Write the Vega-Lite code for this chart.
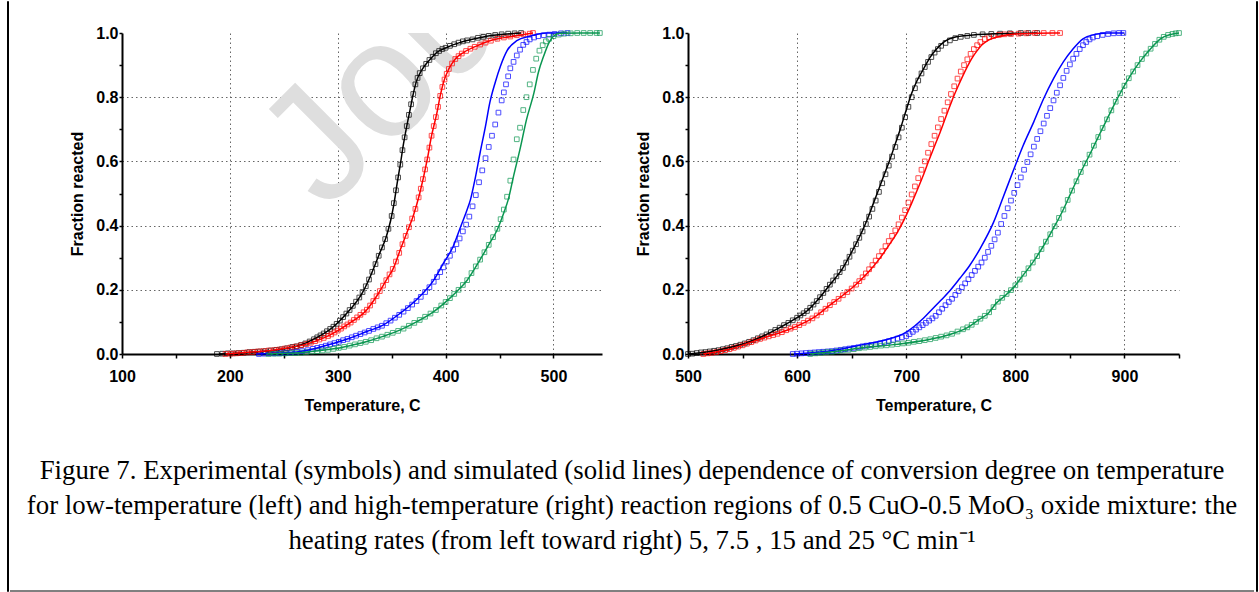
{
"$schema": "https://vega.github.io/schema/vega-lite/v6.json",
"background": "white",
"padding": {"left": 6, "top": 0, "right": 5, "bottom": 0},
"config": {
 "view": {"stroke": null},
 "font": "Liberation Sans",
 "axis": {"labelFont": "Liberation Sans", "labelFontWeight": "bold", "labelFontSize": 16, "labelColor": "black", "titleFont": "Liberation Sans", "titleFontWeight": "bold", "titleFontSize": 16, "titleColor": "black", "domainColor": "black", "domainWidth": 2, "tickColor": "black", "tickWidth": 1.5, "gridColor": "#666666", "gridDash": [1.5, 3], "gridWidth": 1},
 "axisX": {"tickSize": 4, "labelPadding": 10, "titlePadding": 13, "labelFlush": false},
 "axisY": {"tickSize": 3, "labelPadding": 1, "titlePadding": 10}
},
"datasets": {
 "Lx": [
 {"r":"5","t":188,"f":0},{"r":"5","t":193,"f":0.001},{"r":"5","t":198,"f":0.002},{"r":"5","t":203,"f":0.002},{"r":"5","t":208,"f":0.003},{"r":"5","t":213,"f":0.004},{"r":"5","t":218,"f":0.006},{"r":"5","t":223,"f":0.007},{"r":"5","t":228,"f":0.008},{"r":"5","t":233,"f":0.009},{"r":"5","t":238,"f":0.011},{"r":"5","t":243,"f":0.013},{"r":"5","t":248,"f":0.015},{"r":"5","t":253,"f":0.018},{"r":"5","t":258,"f":0.022},{"r":"5","t":262,"f":0.024},{"r":"5","t":266,"f":0.028},{"r":"5","t":270,"f":0.033},{"r":"5","t":274,"f":0.039},{"r":"5","t":278,"f":0.046},{"r":"5","t":281,"f":0.052},{"r":"5","t":284,"f":0.058},{"r":"5","t":287,"f":0.064},{"r":"5","t":290,"f":0.071},{"r":"5","t":293,"f":0.078},{"r":"5","t":296,"f":0.085},{"r":"5","t":299,"f":0.094},{"r":"5","t":302,"f":0.104},{"r":"5","t":305,"f":0.115},{"r":"5","t":308,"f":0.126},{"r":"5","t":311,"f":0.137},{"r":"5","t":314,"f":0.15},{"r":"5","t":317,"f":0.163},{"r":"5","t":320,"f":0.176},{"r":"5","t":323,"f":0.193},{"r":"5","t":326,"f":0.211},{"r":"5","t":329,"f":0.232},{"r":"5","t":332,"f":0.256},{"r":"5","t":335,"f":0.28},{"r":"5","t":338,"f":0.306},{"r":"5","t":341,"f":0.332},{"r":"5","t":344,"f":0.358},{"r":"5","t":347,"f":0.39},{"r":"5","t":350,"f":0.43},{"r":"5","t":352,"f":0.47},{"r":"5","t":354,"f":0.51},{"r":"5","t":356,"f":0.55},{"r":"5","t":358,"f":0.59},{"r":"5","t":360,"f":0.635},{"r":"5","t":362,"f":0.675},{"r":"5","t":364,"f":0.71},{"r":"5","t":366,"f":0.745},{"r":"5","t":368,"f":0.778},{"r":"5","t":370,"f":0.81},{"r":"5","t":372,"f":0.84},{"r":"5","t":374,"f":0.86},{"r":"5","t":376,"f":0.875},{"r":"5","t":379,"f":0.89},{"r":"5","t":382,"f":0.904},{"r":"5","t":385,"f":0.916},{"r":"5","t":388,"f":0.926},{"r":"5","t":391,"f":0.937},{"r":"5","t":394,"f":0.944},{"r":"5","t":397,"f":0.95},{"r":"5","t":400,"f":0.954},{"r":"5","t":404,"f":0.96},{"r":"5","t":408,"f":0.965},{"r":"5","t":412,"f":0.97},{"r":"5","t":416,"f":0.974},{"r":"5","t":420,"f":0.977},{"r":"5","t":425,"f":0.98},{"r":"5","t":430,"f":0.985},{"r":"5","t":435,"f":0.988},{"r":"5","t":440,"f":0.991},{"r":"5","t":446,"f":0.994},{"r":"5","t":452,"f":0.996},{"r":"5","t":458,"f":0.998},{"r":"5","t":464,"f":0.999},{"r":"5","t":470,"f":1},
 {"r":"7.5","t":196,"f":0},{"r":"7.5","t":201,"f":0.001},{"r":"7.5","t":206,"f":0.002},{"r":"7.5","t":211,"f":0.003},{"r":"7.5","t":216,"f":0.005},{"r":"7.5","t":221,"f":0.006},{"r":"7.5","t":226,"f":0.008},{"r":"7.5","t":231,"f":0.009},{"r":"7.5","t":236,"f":0.011},{"r":"7.5","t":241,"f":0.012},{"r":"7.5","t":246,"f":0.014},{"r":"7.5","t":251,"f":0.017},{"r":"7.5","t":256,"f":0.02},{"r":"7.5","t":261,"f":0.023},{"r":"7.5","t":266,"f":0.027},{"r":"7.5","t":271,"f":0.031},{"r":"7.5","t":275,"f":0.035},{"r":"7.5","t":279,"f":0.04},{"r":"7.5","t":283,"f":0.045},{"r":"7.5","t":287,"f":0.05},{"r":"7.5","t":291,"f":0.056},{"r":"7.5","t":294,"f":0.061},{"r":"7.5","t":297,"f":0.067},{"r":"7.5","t":300,"f":0.073},{"r":"7.5","t":303,"f":0.079},{"r":"7.5","t":306,"f":0.086},{"r":"7.5","t":309,"f":0.092},{"r":"7.5","t":312,"f":0.098},{"r":"7.5","t":315,"f":0.106},{"r":"7.5","t":318,"f":0.114},{"r":"7.5","t":321,"f":0.122},{"r":"7.5","t":324,"f":0.13},{"r":"7.5","t":327,"f":0.138},{"r":"7.5","t":330,"f":0.151},{"r":"7.5","t":333,"f":0.165},{"r":"7.5","t":336,"f":0.18},{"r":"7.5","t":339,"f":0.196},{"r":"7.5","t":342,"f":0.213},{"r":"7.5","t":345,"f":0.23},{"r":"7.5","t":348,"f":0.248},{"r":"7.5","t":351,"f":0.265},{"r":"7.5","t":354,"f":0.288},{"r":"7.5","t":357,"f":0.315},{"r":"7.5","t":360,"f":0.342},{"r":"7.5","t":363,"f":0.368},{"r":"7.5","t":366,"f":0.395},{"r":"7.5","t":369,"f":0.422},{"r":"7.5","t":372,"f":0.452},{"r":"7.5","t":375,"f":0.488},{"r":"7.5","t":377,"f":0.515},{"r":"7.5","t":379,"f":0.545},{"r":"7.5","t":381,"f":0.575},{"r":"7.5","t":383,"f":0.606},{"r":"7.5","t":385,"f":0.643},{"r":"7.5","t":387,"f":0.68},{"r":"7.5","t":389,"f":0.71},{"r":"7.5","t":391,"f":0.738},{"r":"7.5","t":393,"f":0.77},{"r":"7.5","t":395,"f":0.804},{"r":"7.5","t":397,"f":0.832},{"r":"7.5","t":399,"f":0.855},{"r":"7.5","t":401,"f":0.873},{"r":"7.5","t":403,"f":0.888},{"r":"7.5","t":406,"f":0.905},{"r":"7.5","t":409,"f":0.919},{"r":"7.5","t":412,"f":0.928},{"r":"7.5","t":415,"f":0.936},{"r":"7.5","t":419,"f":0.944},{"r":"7.5","t":423,"f":0.951},{"r":"7.5","t":427,"f":0.957},{"r":"7.5","t":432,"f":0.964},{"r":"7.5","t":437,"f":0.97},{"r":"7.5","t":442,"f":0.976},{"r":"7.5","t":448,"f":0.982},{"r":"7.5","t":454,"f":0.986},{"r":"7.5","t":460,"f":0.989},{"r":"7.5","t":466,"f":0.993},{"r":"7.5","t":472,"f":0.996},{"r":"7.5","t":478,"f":0.998},{"r":"7.5","t":481,"f":1},
 {"r":"15","t":227,"f":0},{"r":"15","t":232,"f":0.001},{"r":"15","t":237,"f":0.002},{"r":"15","t":242,"f":0.002},{"r":"15","t":247,"f":0.003},{"r":"15","t":252,"f":0.004},{"r":"15","t":257,"f":0.005},{"r":"15","t":262,"f":0.007},{"r":"15","t":267,"f":0.009},{"r":"15","t":272,"f":0.012},{"r":"15","t":277,"f":0.016},{"r":"15","t":281,"f":0.019},{"r":"15","t":285,"f":0.022},{"r":"15","t":289,"f":0.026},{"r":"15","t":293,"f":0.03},{"r":"15","t":297,"f":0.034},{"r":"15","t":301,"f":0.038},{"r":"15","t":305,"f":0.043},{"r":"15","t":309,"f":0.047},{"r":"15","t":313,"f":0.052},{"r":"15","t":317,"f":0.057},{"r":"15","t":321,"f":0.062},{"r":"15","t":325,"f":0.067},{"r":"15","t":329,"f":0.072},{"r":"15","t":333,"f":0.078},{"r":"15","t":337,"f":0.083},{"r":"15","t":341,"f":0.088},{"r":"15","t":345,"f":0.096},{"r":"15","t":349,"f":0.104},{"r":"15","t":353,"f":0.113},{"r":"15","t":357,"f":0.122},{"r":"15","t":361,"f":0.132},{"r":"15","t":365,"f":0.143},{"r":"15","t":369,"f":0.154},{"r":"15","t":373,"f":0.165},{"r":"15","t":377,"f":0.178},{"r":"15","t":381,"f":0.193},{"r":"15","t":385,"f":0.208},{"r":"15","t":389,"f":0.225},{"r":"15","t":392,"f":0.24},{"r":"15","t":395,"f":0.255},{"r":"15","t":398,"f":0.27},{"r":"15","t":401,"f":0.288},{"r":"15","t":404,"f":0.306},{"r":"15","t":407,"f":0.325},{"r":"15","t":410,"f":0.342},{"r":"15","t":413,"f":0.36},{"r":"15","t":416,"f":0.382},{"r":"15","t":419,"f":0.403},{"r":"15","t":422,"f":0.428},{"r":"15","t":425,"f":0.46},{"r":"15","t":428,"f":0.495},{"r":"15","t":431,"f":0.535},{"r":"15","t":434,"f":0.572},{"r":"15","t":437,"f":0.61},{"r":"15","t":440,"f":0.645},{"r":"15","t":443,"f":0.68},{"r":"15","t":446,"f":0.715},{"r":"15","t":449,"f":0.752},{"r":"15","t":452,"f":0.79},{"r":"15","t":454,"f":0.815},{"r":"15","t":456,"f":0.84},{"r":"15","t":458,"f":0.865},{"r":"15","t":460,"f":0.89},{"r":"15","t":463,"f":0.91},{"r":"15","t":466,"f":0.93},{"r":"15","t":469,"f":0.948},{"r":"15","t":472,"f":0.963},{"r":"15","t":475,"f":0.972},{"r":"15","t":478,"f":0.98},{"r":"15","t":482,"f":0.986},{"r":"15","t":486,"f":0.99},{"r":"15","t":491,"f":0.993},{"r":"15","t":496,"f":0.995},{"r":"15","t":501,"f":0.997},{"r":"15","t":507,"f":0.999},{"r":"15","t":513,"f":1},
 {"r":"25","t":236,"f":0},{"r":"25","t":241,"f":0.001},{"r":"25","t":246,"f":0.001},{"r":"25","t":251,"f":0.002},{"r":"25","t":256,"f":0.003},{"r":"25","t":261,"f":0.003},{"r":"25","t":266,"f":0.004},{"r":"25","t":271,"f":0.006},{"r":"25","t":276,"f":0.008},{"r":"25","t":281,"f":0.009},{"r":"25","t":286,"f":0.011},{"r":"25","t":291,"f":0.013},{"r":"25","t":296,"f":0.016},{"r":"25","t":301,"f":0.019},{"r":"25","t":306,"f":0.022},{"r":"25","t":311,"f":0.026},{"r":"25","t":316,"f":0.03},{"r":"25","t":321,"f":0.034},{"r":"25","t":326,"f":0.038},{"r":"25","t":331,"f":0.043},{"r":"25","t":336,"f":0.049},{"r":"25","t":341,"f":0.054},{"r":"25","t":346,"f":0.06},{"r":"25","t":351,"f":0.066},{"r":"25","t":356,"f":0.072},{"r":"25","t":361,"f":0.079},{"r":"25","t":366,"f":0.088},{"r":"25","t":371,"f":0.097},{"r":"25","t":376,"f":0.106},{"r":"25","t":381,"f":0.116},{"r":"25","t":386,"f":0.126},{"r":"25","t":391,"f":0.137},{"r":"25","t":396,"f":0.151},{"r":"25","t":400,"f":0.162},{"r":"25","t":404,"f":0.174},{"r":"25","t":408,"f":0.187},{"r":"25","t":412,"f":0.2},{"r":"25","t":416,"f":0.215},{"r":"25","t":420,"f":0.23},{"r":"25","t":424,"f":0.252},{"r":"25","t":428,"f":0.273},{"r":"25","t":432,"f":0.294},{"r":"25","t":436,"f":0.317},{"r":"25","t":440,"f":0.34},{"r":"25","t":444,"f":0.364},{"r":"25","t":448,"f":0.39},{"r":"25","t":451,"f":0.42},{"r":"25","t":454,"f":0.45},{"r":"25","t":457,"f":0.49},{"r":"25","t":460,"f":0.54},{"r":"25","t":463,"f":0.606},{"r":"25","t":466,"f":0.669},{"r":"25","t":469,"f":0.705},{"r":"25","t":472,"f":0.76},{"r":"25","t":475,"f":0.8},{"r":"25","t":478,"f":0.84},{"r":"25","t":481,"f":0.885},{"r":"25","t":484,"f":0.92},{"r":"25","t":487,"f":0.945},{"r":"25","t":490,"f":0.962},{"r":"25","t":493,"f":0.974},{"r":"25","t":496,"f":0.982},{"r":"25","t":500,"f":0.99},{"r":"25","t":505,"f":0.995},{"r":"25","t":510,"f":0.998},{"r":"25","t":516,"f":0.999},{"r":"25","t":522,"f":1},{"r":"25","t":528,"f":1},{"r":"25","t":534,"f":1},{"r":"25","t":540,"f":1},{"r":"25","t":543,"f":1}
 ],
 "Ls": [
 {"r":"5","t":190,"f":0},{"r":"5","t":210,"f":0.003},{"r":"5","t":230,"f":0.008},{"r":"5","t":250,"f":0.016},{"r":"5","t":265,"f":0.027},{"r":"5","t":280,"f":0.05},{"r":"5","t":296,"f":0.085},{"r":"5","t":311,"f":0.137},{"r":"5","t":321,"f":0.18},{"r":"5","t":330,"f":0.24},{"r":"5","t":339,"f":0.315},{"r":"5","t":345,"f":0.365},{"r":"5","t":349,"f":0.415},{"r":"5","t":352,"f":0.465},{"r":"5","t":355,"f":0.53},{"r":"5","t":358,"f":0.59},{"r":"5","t":361,"f":0.655},{"r":"5","t":364,"f":0.71},{"r":"5","t":367,"f":0.76},{"r":"5","t":370,"f":0.81},{"r":"5","t":373,"f":0.85},{"r":"5","t":378,"f":0.885},{"r":"5","t":383,"f":0.908},{"r":"5","t":387,"f":0.923},{"r":"5","t":392,"f":0.94},{"r":"5","t":401,"f":0.955},{"r":"5","t":413,"f":0.97},{"r":"5","t":426,"f":0.981},{"r":"5","t":438,"f":0.99},{"r":"5","t":457,"f":0.997},{"r":"5","t":470,"f":1},
 {"r":"7.5","t":196,"f":0},{"r":"7.5","t":220,"f":0.006},{"r":"7.5","t":240,"f":0.012},{"r":"7.5","t":256,"f":0.02},{"r":"7.5","t":270,"f":0.03},{"r":"7.5","t":285,"f":0.047},{"r":"7.5","t":296,"f":0.065},{"r":"7.5","t":311,"f":0.096},{"r":"7.5","t":327,"f":0.138},{"r":"7.5","t":336,"f":0.18},{"r":"7.5","t":345,"f":0.23},{"r":"7.5","t":352,"f":0.27},{"r":"7.5","t":358,"f":0.325},{"r":"7.5","t":364,"f":0.377},{"r":"7.5","t":370,"f":0.43},{"r":"7.5","t":376,"f":0.5},{"r":"7.5","t":383,"f":0.606},{"r":"7.5","t":387,"f":0.68},{"r":"7.5","t":392,"f":0.752},{"r":"7.5","t":395,"f":0.804},{"r":"7.5","t":398,"f":0.846},{"r":"7.5","t":403,"f":0.888},{"r":"7.5","t":409,"f":0.919},{"r":"7.5","t":417,"f":0.94},{"r":"7.5","t":429,"f":0.96},{"r":"7.5","t":444,"f":0.979},{"r":"7.5","t":463,"f":0.99},{"r":"7.5","t":481,"f":1},
 {"r":"15","t":225,"f":0},{"r":"15","t":245,"f":0.003},{"r":"15","t":265,"f":0.008},{"r":"15","t":280,"f":0.018},{"r":"15","t":296,"f":0.033},{"r":"15","t":311,"f":0.049},{"r":"15","t":327,"f":0.07},{"r":"15","t":342,"f":0.09},{"r":"15","t":358,"f":0.127},{"r":"15","t":373,"f":0.169},{"r":"15","t":389,"f":0.23},{"r":"15","t":398,"f":0.283},{"r":"15","t":407,"f":0.335},{"r":"15","t":413,"f":0.388},{"r":"15","t":420,"f":0.45},{"r":"15","t":423,"f":0.48},{"r":"15","t":427,"f":0.54},{"r":"15","t":432,"f":0.627},{"r":"15","t":437,"f":0.71},{"r":"15","t":441,"f":0.783},{"r":"15","t":446,"f":0.846},{"r":"15","t":451,"f":0.898},{"r":"15","t":457,"f":0.945},{"r":"15","t":466,"f":0.976},{"r":"15","t":478,"f":0.99},{"r":"15","t":494,"f":1},{"r":"15","t":513,"f":1},
 {"r":"25","t":234,"f":0},{"r":"25","t":250,"f":0.002},{"r":"25","t":265,"f":0.004},{"r":"25","t":280,"f":0.009},{"r":"25","t":296,"f":0.016},{"r":"25","t":311,"f":0.026},{"r":"25","t":327,"f":0.039},{"r":"25","t":342,"f":0.055},{"r":"25","t":358,"f":0.075},{"r":"25","t":373,"f":0.1},{"r":"25","t":389,"f":0.132},{"r":"25","t":404,"f":0.174},{"r":"25","t":412,"f":0.2},{"r":"25","t":420,"f":0.23},{"r":"25","t":432,"f":0.294},{"r":"25","t":441,"f":0.346},{"r":"25","t":448,"f":0.388},{"r":"25","t":454,"f":0.44},{"r":"25","t":458,"f":0.48},{"r":"25","t":463,"f":0.554},{"r":"25","t":469,"f":0.638},{"r":"25","t":475,"f":0.73},{"r":"25","t":482,"f":0.815},{"r":"25","t":486,"f":0.877},{"r":"25","t":491,"f":0.929},{"r":"25","t":496,"f":0.971},{"r":"25","t":500,"f":0.99},{"r":"25","t":506,"f":0.999},{"r":"25","t":543,"f":1}
 ],
 "Rx": [
 {"r":"5","t":500,"f":0},{"r":"5","t":504,"f":0.001},{"r":"5","t":508,"f":0.003},{"r":"5","t":512,"f":0.005},{"r":"5","t":516,"f":0.006},{"r":"5","t":520,"f":0.008},{"r":"5","t":524,"f":0.01},{"r":"5","t":528,"f":0.012},{"r":"5","t":532,"f":0.015},{"r":"5","t":536,"f":0.018},{"r":"5","t":540,"f":0.022},{"r":"5","t":544,"f":0.025},{"r":"5","t":548,"f":0.029},{"r":"5","t":552,"f":0.033},{"r":"5","t":556,"f":0.038},{"r":"5","t":560,"f":0.043},{"r":"5","t":564,"f":0.049},{"r":"5","t":568,"f":0.055},{"r":"5","t":572,"f":0.061},{"r":"5","t":576,"f":0.068},{"r":"5","t":580,"f":0.075},{"r":"5","t":584,"f":0.082},{"r":"5","t":588,"f":0.09},{"r":"5","t":592,"f":0.097},{"r":"5","t":596,"f":0.105},{"r":"5","t":600,"f":0.113},{"r":"5","t":603,"f":0.12},{"r":"5","t":606,"f":0.127},{"r":"5","t":609,"f":0.134},{"r":"5","t":612,"f":0.144},{"r":"5","t":615,"f":0.154},{"r":"5","t":618,"f":0.165},{"r":"5","t":621,"f":0.177},{"r":"5","t":624,"f":0.19},{"r":"5","t":627,"f":0.203},{"r":"5","t":630,"f":0.216},{"r":"5","t":633,"f":0.229},{"r":"5","t":636,"f":0.242},{"r":"5","t":639,"f":0.255},{"r":"5","t":642,"f":0.268},{"r":"5","t":645,"f":0.285},{"r":"5","t":648,"f":0.303},{"r":"5","t":651,"f":0.322},{"r":"5","t":654,"f":0.342},{"r":"5","t":657,"f":0.362},{"r":"5","t":660,"f":0.382},{"r":"5","t":663,"f":0.405},{"r":"5","t":666,"f":0.428},{"r":"5","t":669,"f":0.452},{"r":"5","t":672,"f":0.478},{"r":"5","t":675,"f":0.505},{"r":"5","t":678,"f":0.532},{"r":"5","t":681,"f":0.56},{"r":"5","t":684,"f":0.587},{"r":"5","t":687,"f":0.615},{"r":"5","t":690,"f":0.645},{"r":"5","t":693,"f":0.675},{"r":"5","t":696,"f":0.705},{"r":"5","t":699,"f":0.738},{"r":"5","t":702,"f":0.77},{"r":"5","t":705,"f":0.8},{"r":"5","t":708,"f":0.828},{"r":"5","t":711,"f":0.852},{"r":"5","t":714,"f":0.874},{"r":"5","t":717,"f":0.894},{"r":"5","t":720,"f":0.91},{"r":"5","t":723,"f":0.925},{"r":"5","t":726,"f":0.939},{"r":"5","t":729,"f":0.95},{"r":"5","t":732,"f":0.96},{"r":"5","t":736,"f":0.969},{"r":"5","t":740,"f":0.977},{"r":"5","t":745,"f":0.984},{"r":"5","t":750,"f":0.988},{"r":"5","t":756,"f":0.991},{"r":"5","t":762,"f":0.994},{"r":"5","t":770,"f":0.996},{"r":"5","t":778,"f":0.997},{"r":"5","t":786,"f":0.998},{"r":"5","t":795,"f":0.999},{"r":"5","t":805,"f":1},{"r":"5","t":812,"f":1},{"r":"5","t":820,"f":1},
 {"r":"7.5","t":514,"f":0},{"r":"7.5","t":518,"f":0.002},{"r":"7.5","t":522,"f":0.004},{"r":"7.5","t":526,"f":0.006},{"r":"7.5","t":530,"f":0.009},{"r":"7.5","t":534,"f":0.012},{"r":"7.5","t":538,"f":0.015},{"r":"7.5","t":542,"f":0.019},{"r":"7.5","t":546,"f":0.023},{"r":"7.5","t":550,"f":0.027},{"r":"7.5","t":554,"f":0.032},{"r":"7.5","t":558,"f":0.037},{"r":"7.5","t":562,"f":0.042},{"r":"7.5","t":566,"f":0.047},{"r":"7.5","t":570,"f":0.051},{"r":"7.5","t":574,"f":0.055},{"r":"7.5","t":578,"f":0.059},{"r":"7.5","t":582,"f":0.063},{"r":"7.5","t":586,"f":0.068},{"r":"7.5","t":590,"f":0.074},{"r":"7.5","t":594,"f":0.079},{"r":"7.5","t":598,"f":0.084},{"r":"7.5","t":602,"f":0.09},{"r":"7.5","t":606,"f":0.097},{"r":"7.5","t":610,"f":0.104},{"r":"7.5","t":614,"f":0.111},{"r":"7.5","t":618,"f":0.12},{"r":"7.5","t":622,"f":0.13},{"r":"7.5","t":626,"f":0.141},{"r":"7.5","t":630,"f":0.152},{"r":"7.5","t":634,"f":0.162},{"r":"7.5","t":638,"f":0.172},{"r":"7.5","t":642,"f":0.183},{"r":"7.5","t":646,"f":0.193},{"r":"7.5","t":650,"f":0.204},{"r":"7.5","t":654,"f":0.216},{"r":"7.5","t":657,"f":0.227},{"r":"7.5","t":660,"f":0.239},{"r":"7.5","t":663,"f":0.251},{"r":"7.5","t":666,"f":0.264},{"r":"7.5","t":669,"f":0.277},{"r":"7.5","t":672,"f":0.291},{"r":"7.5","t":675,"f":0.305},{"r":"7.5","t":678,"f":0.32},{"r":"7.5","t":681,"f":0.336},{"r":"7.5","t":684,"f":0.352},{"r":"7.5","t":687,"f":0.368},{"r":"7.5","t":690,"f":0.385},{"r":"7.5","t":693,"f":0.404},{"r":"7.5","t":696,"f":0.425},{"r":"7.5","t":699,"f":0.448},{"r":"7.5","t":702,"f":0.472},{"r":"7.5","t":705,"f":0.497},{"r":"7.5","t":708,"f":0.522},{"r":"7.5","t":711,"f":0.548},{"r":"7.5","t":714,"f":0.574},{"r":"7.5","t":717,"f":0.6},{"r":"7.5","t":720,"f":0.627},{"r":"7.5","t":723,"f":0.654},{"r":"7.5","t":726,"f":0.68},{"r":"7.5","t":729,"f":0.706},{"r":"7.5","t":732,"f":0.732},{"r":"7.5","t":735,"f":0.758},{"r":"7.5","t":738,"f":0.784},{"r":"7.5","t":741,"f":0.81},{"r":"7.5","t":744,"f":0.834},{"r":"7.5","t":747,"f":0.858},{"r":"7.5","t":750,"f":0.88},{"r":"7.5","t":753,"f":0.9},{"r":"7.5","t":756,"f":0.918},{"r":"7.5","t":759,"f":0.935},{"r":"7.5","t":762,"f":0.95},{"r":"7.5","t":765,"f":0.962},{"r":"7.5","t":768,"f":0.972},{"r":"7.5","t":772,"f":0.981},{"r":"7.5","t":776,"f":0.987},{"r":"7.5","t":780,"f":0.991},{"r":"7.5","t":785,"f":0.994},{"r":"7.5","t":790,"f":0.996},{"r":"7.5","t":796,"f":0.997},{"r":"7.5","t":803,"f":0.998},{"r":"7.5","t":810,"f":0.999},{"r":"7.5","t":818,"f":1},{"r":"7.5","t":826,"f":1},{"r":"7.5","t":834,"f":1},{"r":"7.5","t":841,"f":1},
 {"r":"15","t":596,"f":0},{"r":"15","t":600,"f":0.001},{"r":"15","t":604,"f":0.002},{"r":"15","t":608,"f":0.003},{"r":"15","t":612,"f":0.004},{"r":"15","t":616,"f":0.005},{"r":"15","t":620,"f":0.006},{"r":"15","t":624,"f":0.007},{"r":"15","t":628,"f":0.008},{"r":"15","t":632,"f":0.009},{"r":"15","t":636,"f":0.011},{"r":"15","t":640,"f":0.013},{"r":"15","t":644,"f":0.015},{"r":"15","t":648,"f":0.017},{"r":"15","t":652,"f":0.019},{"r":"15","t":656,"f":0.021},{"r":"15","t":660,"f":0.024},{"r":"15","t":664,"f":0.026},{"r":"15","t":668,"f":0.028},{"r":"15","t":672,"f":0.03},{"r":"15","t":676,"f":0.033},{"r":"15","t":680,"f":0.036},{"r":"15","t":684,"f":0.04},{"r":"15","t":688,"f":0.044},{"r":"15","t":692,"f":0.048},{"r":"15","t":696,"f":0.052},{"r":"15","t":700,"f":0.056},{"r":"15","t":703,"f":0.062},{"r":"15","t":706,"f":0.069},{"r":"15","t":709,"f":0.076},{"r":"15","t":712,"f":0.083},{"r":"15","t":715,"f":0.09},{"r":"15","t":718,"f":0.097},{"r":"15","t":721,"f":0.104},{"r":"15","t":724,"f":0.111},{"r":"15","t":727,"f":0.119},{"r":"15","t":730,"f":0.13},{"r":"15","t":733,"f":0.141},{"r":"15","t":736,"f":0.152},{"r":"15","t":739,"f":0.162},{"r":"15","t":742,"f":0.172},{"r":"15","t":745,"f":0.184},{"r":"15","t":748,"f":0.196},{"r":"15","t":751,"f":0.208},{"r":"15","t":754,"f":0.22},{"r":"15","t":757,"f":0.233},{"r":"15","t":760,"f":0.246},{"r":"15","t":763,"f":0.259},{"r":"15","t":766,"f":0.272},{"r":"15","t":769,"f":0.285},{"r":"15","t":772,"f":0.3},{"r":"15","t":775,"f":0.318},{"r":"15","t":778,"f":0.337},{"r":"15","t":781,"f":0.357},{"r":"15","t":784,"f":0.378},{"r":"15","t":787,"f":0.405},{"r":"15","t":790,"f":0.43},{"r":"15","t":793,"f":0.454},{"r":"15","t":796,"f":0.478},{"r":"15","t":799,"f":0.502},{"r":"15","t":802,"f":0.526},{"r":"15","t":805,"f":0.55},{"r":"15","t":808,"f":0.574},{"r":"15","t":811,"f":0.598},{"r":"15","t":814,"f":0.622},{"r":"15","t":817,"f":0.646},{"r":"15","t":820,"f":0.67},{"r":"15","t":823,"f":0.694},{"r":"15","t":826,"f":0.718},{"r":"15","t":829,"f":0.742},{"r":"15","t":832,"f":0.766},{"r":"15","t":835,"f":0.79},{"r":"15","t":838,"f":0.814},{"r":"15","t":841,"f":0.837},{"r":"15","t":844,"f":0.86},{"r":"15","t":847,"f":0.882},{"r":"15","t":850,"f":0.902},{"r":"15","t":853,"f":0.92},{"r":"15","t":856,"f":0.935},{"r":"15","t":859,"f":0.95},{"r":"15","t":862,"f":0.962},{"r":"15","t":865,"f":0.972},{"r":"15","t":868,"f":0.98},{"r":"15","t":871,"f":0.986},{"r":"15","t":875,"f":0.99},{"r":"15","t":880,"f":0.994},{"r":"15","t":885,"f":0.997},{"r":"15","t":890,"f":0.999},{"r":"15","t":895,"f":1},{"r":"15","t":899,"f":1},
 {"r":"25","t":612,"f":0},{"r":"25","t":617,"f":0.002},{"r":"25","t":622,"f":0.004},{"r":"25","t":627,"f":0.006},{"r":"25","t":632,"f":0.007},{"r":"25","t":637,"f":0.009},{"r":"25","t":642,"f":0.011},{"r":"25","t":647,"f":0.013},{"r":"25","t":652,"f":0.015},{"r":"25","t":657,"f":0.018},{"r":"25","t":662,"f":0.02},{"r":"25","t":667,"f":0.022},{"r":"25","t":672,"f":0.024},{"r":"25","t":677,"f":0.026},{"r":"25","t":682,"f":0.027},{"r":"25","t":687,"f":0.029},{"r":"25","t":692,"f":0.031},{"r":"25","t":697,"f":0.033},{"r":"25","t":702,"f":0.035},{"r":"25","t":707,"f":0.038},{"r":"25","t":712,"f":0.04},{"r":"25","t":717,"f":0.043},{"r":"25","t":722,"f":0.046},{"r":"25","t":727,"f":0.05},{"r":"25","t":732,"f":0.054},{"r":"25","t":737,"f":0.058},{"r":"25","t":742,"f":0.063},{"r":"25","t":747,"f":0.07},{"r":"25","t":752,"f":0.077},{"r":"25","t":756,"f":0.083},{"r":"25","t":760,"f":0.091},{"r":"25","t":764,"f":0.1},{"r":"25","t":768,"f":0.11},{"r":"25","t":772,"f":0.119},{"r":"25","t":776,"f":0.13},{"r":"25","t":780,"f":0.146},{"r":"25","t":784,"f":0.163},{"r":"25","t":788,"f":0.175},{"r":"25","t":792,"f":0.187},{"r":"25","t":796,"f":0.199},{"r":"25","t":800,"f":0.214},{"r":"25","t":804,"f":0.232},{"r":"25","t":808,"f":0.25},{"r":"25","t":812,"f":0.267},{"r":"25","t":816,"f":0.285},{"r":"25","t":820,"f":0.305},{"r":"25","t":824,"f":0.327},{"r":"25","t":828,"f":0.35},{"r":"25","t":832,"f":0.373},{"r":"25","t":836,"f":0.398},{"r":"25","t":840,"f":0.424},{"r":"25","t":844,"f":0.45},{"r":"25","t":848,"f":0.48},{"r":"25","t":852,"f":0.509},{"r":"25","t":856,"f":0.538},{"r":"25","t":860,"f":0.567},{"r":"25","t":864,"f":0.594},{"r":"25","t":868,"f":0.621},{"r":"25","t":872,"f":0.649},{"r":"25","t":876,"f":0.676},{"r":"25","t":880,"f":0.704},{"r":"25","t":884,"f":0.731},{"r":"25","t":888,"f":0.759},{"r":"25","t":892,"f":0.786},{"r":"25","t":896,"f":0.812},{"r":"25","t":900,"f":0.836},{"r":"25","t":904,"f":0.859},{"r":"25","t":908,"f":0.88},{"r":"25","t":912,"f":0.9},{"r":"25","t":916,"f":0.919},{"r":"25","t":920,"f":0.936},{"r":"25","t":924,"f":0.951},{"r":"25","t":928,"f":0.966},{"r":"25","t":932,"f":0.979},{"r":"25","t":936,"f":0.988},{"r":"25","t":940,"f":0.994},{"r":"25","t":944,"f":0.997},{"r":"25","t":947,"f":0.999},{"r":"25","t":950,"f":1}
 ],
 "Rs": [
 {"r":"5","t":500,"f":0},{"r":"5","t":523,"f":0.009},{"r":"5","t":538,"f":0.02},{"r":"5","t":554,"f":0.035},{"r":"5","t":569,"f":0.056},{"r":"5","t":584,"f":0.082},{"r":"5","t":600,"f":0.113},{"r":"5","t":609,"f":0.134},{"r":"5","t":618,"f":0.165},{"r":"5","t":630,"f":0.216},{"r":"5","t":642,"f":0.268},{"r":"5","t":648,"f":0.305},{"r":"5","t":655,"f":0.35},{"r":"5","t":660,"f":0.385},{"r":"5","t":665,"f":0.425},{"r":"5","t":670,"f":0.47},{"r":"5","t":675,"f":0.515},{"r":"5","t":680,"f":0.56},{"r":"5","t":685,"f":0.605},{"r":"5","t":690,"f":0.655},{"r":"5","t":695,"f":0.705},{"r":"5","t":700,"f":0.76},{"r":"5","t":705,"f":0.812},{"r":"5","t":710,"f":0.852},{"r":"5","t":716,"f":0.889},{"r":"5","t":722,"f":0.925},{"r":"5","t":728,"f":0.951},{"r":"5","t":735,"f":0.973},{"r":"5","t":746,"f":0.988},{"r":"5","t":765,"f":0.995},{"r":"5","t":786,"f":0.998},{"r":"5","t":820,"f":1},
 {"r":"7.5","t":514,"f":0},{"r":"7.5","t":538,"f":0.015},{"r":"7.5","t":569,"f":0.05},{"r":"7.5","t":584,"f":0.066},{"r":"7.5","t":600,"f":0.087},{"r":"7.5","t":615,"f":0.113},{"r":"7.5","t":630,"f":0.152},{"r":"7.5","t":642,"f":0.183},{"r":"7.5","t":650,"f":0.205},{"r":"7.5","t":658,"f":0.23},{"r":"7.5","t":666,"f":0.258},{"r":"7.5","t":674,"f":0.29},{"r":"7.5","t":685,"f":0.343},{"r":"7.5","t":692,"f":0.38},{"r":"7.5","t":699,"f":0.425},{"r":"7.5","t":705,"f":0.47},{"r":"7.5","t":710,"f":0.51},{"r":"7.5","t":716,"f":0.56},{"r":"7.5","t":721,"f":0.605},{"r":"7.5","t":726,"f":0.648},{"r":"7.5","t":731,"f":0.69},{"r":"7.5","t":737,"f":0.745},{"r":"7.5","t":742,"f":0.79},{"r":"7.5","t":747,"f":0.83},{"r":"7.5","t":751,"f":0.86},{"r":"7.5","t":756,"f":0.895},{"r":"7.5","t":760,"f":0.92},{"r":"7.5","t":765,"f":0.945},{"r":"7.5","t":769,"f":0.962},{"r":"7.5","t":774,"f":0.975},{"r":"7.5","t":778,"f":0.982},{"r":"7.5","t":786,"f":0.99},{"r":"7.5","t":800,"f":0.997},{"r":"7.5","t":820,"f":0.999},{"r":"7.5","t":841,"f":1},
 {"r":"15","t":597,"f":0},{"r":"15","t":630,"f":0.009},{"r":"15","t":661,"f":0.03},{"r":"15","t":679,"f":0.042},{"r":"15","t":700,"f":0.068},{"r":"15","t":708,"f":0.088},{"r":"15","t":716,"f":0.112},{"r":"15","t":724,"f":0.14},{"r":"15","t":732,"f":0.168},{"r":"15","t":740,"f":0.197},{"r":"15","t":749,"f":0.235},{"r":"15","t":758,"f":0.275},{"r":"15","t":768,"f":0.33},{"r":"15","t":780,"f":0.41},{"r":"15","t":789,"f":0.49},{"r":"15","t":798,"f":0.57},{"r":"15","t":807,"f":0.648},{"r":"15","t":817,"f":0.724},{"r":"15","t":826,"f":0.796},{"r":"15","t":835,"f":0.858},{"r":"15","t":844,"f":0.91},{"r":"15","t":853,"f":0.951},{"r":"15","t":862,"f":0.982},{"r":"15","t":872,"f":0.995},{"r":"15","t":884,"f":1},{"r":"15","t":900,"f":1},
 {"r":"25","t":612,"f":0},{"r":"25","t":640,"f":0.01},{"r":"25","t":661,"f":0.02},{"r":"25","t":691,"f":0.03},{"r":"25","t":722,"f":0.046},{"r":"25","t":740,"f":0.061},{"r":"25","t":756,"f":0.082},{"r":"25","t":768,"f":0.11},{"r":"25","t":774,"f":0.123},{"r":"25","t":783,"f":0.16},{"r":"25","t":790,"f":0.18},{"r":"25","t":798,"f":0.206},{"r":"25","t":807,"f":0.245},{"r":"25","t":817,"f":0.29},{"r":"25","t":826,"f":0.338},{"r":"25","t":835,"f":0.392},{"r":"25","t":844,"f":0.45},{"r":"25","t":850,"f":0.495},{"r":"25","t":859,"f":0.56},{"r":"25","t":869,"f":0.627},{"r":"25","t":878,"f":0.69},{"r":"25","t":887,"f":0.752},{"r":"25","t":896,"f":0.812},{"r":"25","t":905,"f":0.865},{"r":"25","t":914,"f":0.91},{"r":"25","t":924,"f":0.951},{"r":"25","t":933,"f":0.982},{"r":"25","t":942,"f":0.995},{"r":"25","t":950,"f":1}
 ],
 "wm": [{"w": "Journal Pre-proof", "t": 289, "f": 0.44}],
 "cap": [
 {"line": 1, "text": "Figure 7. Experimental (symbols) and simulated (solid lines) dependence of conversion degree on temperature"},
 {"line": 2, "text": "for low-temperature (left) and high-temperature (right) reaction regions of 0.5 CuO-0.5 MoO₃ oxide mixture: the"},
 {"line": 3, "text": "heating rates (from left toward right)  5, 7.5 , 15 and 25 °C min⁻¹"}
 ]
},
"hconcat": [
 {"width": 1, "height": 590, "view": {"stroke": "black", "strokeWidth": 1}, "data": {"values": []}, "mark": "point"},
 {
  "vconcat": [
   {"width": 1, "height": 24, "data": {"values": []}, "mark": "point"},
   {
    "hconcat": [
     {"width": 29, "height": 1, "data": {"values": []}, "mark": "point"},
     {
      "width": 480, "height": 321,
      "encoding": {
       "x": {"field": "t", "type": "quantitative", "title": "Temperature, C", "scale": {"domain": [100, 545], "nice": false, "zero": false},
         "axis": {"values": [100,150,200,250,300,350,400,450,500], "labelExpr": "datum.value % 100 == 0 ? datum.label : ''", "gridOpacity": {"condition": {"test": "datum.value % 100 == 0 && datum.value > 100", "value": 1}, "value": 0}}},
       "y": {"field": "f", "type": "quantitative", "title": "Fraction reacted", "scale": {"domain": [0, 1], "nice": false, "zero": false},
         "axis": {"values": [0,0.1,0.2,0.3,0.4,0.5,0.6,0.7,0.8,0.9,1], "labelExpr": "round(datum.value*10) % 2 == 0 ? format(datum.value, '.1f') : ''", "gridOpacity": {"condition": {"test": "round(datum.value*10) % 2 == 0 && datum.value > 0.05 && datum.value < 0.95", "value": 1}, "value": 0}}},
       "color": {"field": "r", "type": "nominal", "scale": {"domain": ["5","7.5","15","25"], "range": ["#000000","#ff0000","#0000ff","#0a9650"]}, "legend": null}
      },
      "layer": [
       {"data": {"name": "wm"}, "mark": {"type": "text", "angle": 315, "fontSize": 165, "font": "Liberation Sans", "align": "left", "baseline": "alphabetic", "clip": true}, "encoding": {"text": {"field": "w", "type": "nominal"}, "color": {"value": "#dedede"}}},
       {"data": {"name": "Lx"}, "mark": {"type": "point", "shape": "square", "filled": false, "size": 22, "strokeWidth": 1}},
       {"data": {"name": "Ls"}, "mark": {"type": "line", "strokeWidth": 1.5, "interpolate": "monotone"}},
       {"data": {"values": [{"v": 1}]}, "mark": {"type": "rule", "color": "black", "strokeWidth": 2}, "encoding": {"y": {"field": "v", "type": "quantitative"}, "color": {"value": "black"}, "x": {"datum": 100}, "x2": {"datum": 545}}}
      ]
     },
     {
      "width": 491, "height": 321,
      "encoding": {
       "x": {"field": "t", "type": "quantitative", "title": "Temperature, C", "scale": {"domain": [500, 950], "nice": false, "zero": false},
         "axis": {"values": [500,550,600,650,700,750,800,850,900,950], "labelExpr": "datum.value % 100 == 0 ? datum.label : ''", "gridOpacity": {"condition": {"test": "datum.value % 100 == 0 && datum.value > 500", "value": 1}, "value": 0}}},
       "y": {"field": "f", "type": "quantitative", "title": "Fraction reacted", "scale": {"domain": [0, 1], "nice": false, "zero": false},
         "axis": {"values": [0,0.1,0.2,0.3,0.4,0.5,0.6,0.7,0.8,0.9,1], "labelExpr": "round(datum.value*10) % 2 == 0 ? format(datum.value, '.1f') : ''", "gridOpacity": {"condition": {"test": "round(datum.value*10) % 2 == 0 && datum.value > 0.05 && datum.value < 0.95", "value": 1}, "value": 0}}},
       "color": {"field": "r", "type": "nominal", "scale": {"domain": ["5","7.5","15","25"], "range": ["#000000","#ff0000","#0000ff","#0a9650"]}, "legend": null}
      },
      "layer": [
       {"data": {"name": "Rx"}, "mark": {"type": "point", "shape": "square", "filled": false, "size": 22, "strokeWidth": 1}},
       {"data": {"name": "Rs"}, "mark": {"type": "line", "strokeWidth": 1.5, "interpolate": "monotone"}},
       {"data": {"values": [{"v": 1}]}, "mark": {"type": "rule", "color": "black", "strokeWidth": 2}, "encoding": {"y": {"field": "v", "type": "quantitative"}, "color": {"value": "black"}, "x": {"datum": 500}, "x2": {"datum": 950}}}
      ]
     }
    ],
    "spacing": 30
   },
   {
    "width": 1244, "height": 178,
    "layer": [
     {
      "data": {"name": "cap"},
      "mark": {"type": "text", "font": "Liberation Serif", "fontSize": 26.8, "color": "black", "baseline": "alphabetic", "align": "center"},
      "encoding": {
       "y": {"field": "line", "type": "quantitative", "scale": {"domain": [-0.886, 4.2], "reverse": true, "nice": false, "zero": false}, "axis": null},
       "text": {"field": "text", "type": "nominal"}
      }
     },
     {
      "data": {"values": [{"b": 4.2}]},
      "mark": {"type": "rule", "color": "black", "strokeWidth": 1},
      "encoding": {"y": {"field": "b", "type": "quantitative"}}
     }
    ]
   }
  ],
  "spacing": 0
 },
 {"width": 1, "height": 590, "view": {"stroke": "black", "strokeWidth": 1}, "data": {"values": []}, "mark": "point"}
],
"spacing": 0
}
